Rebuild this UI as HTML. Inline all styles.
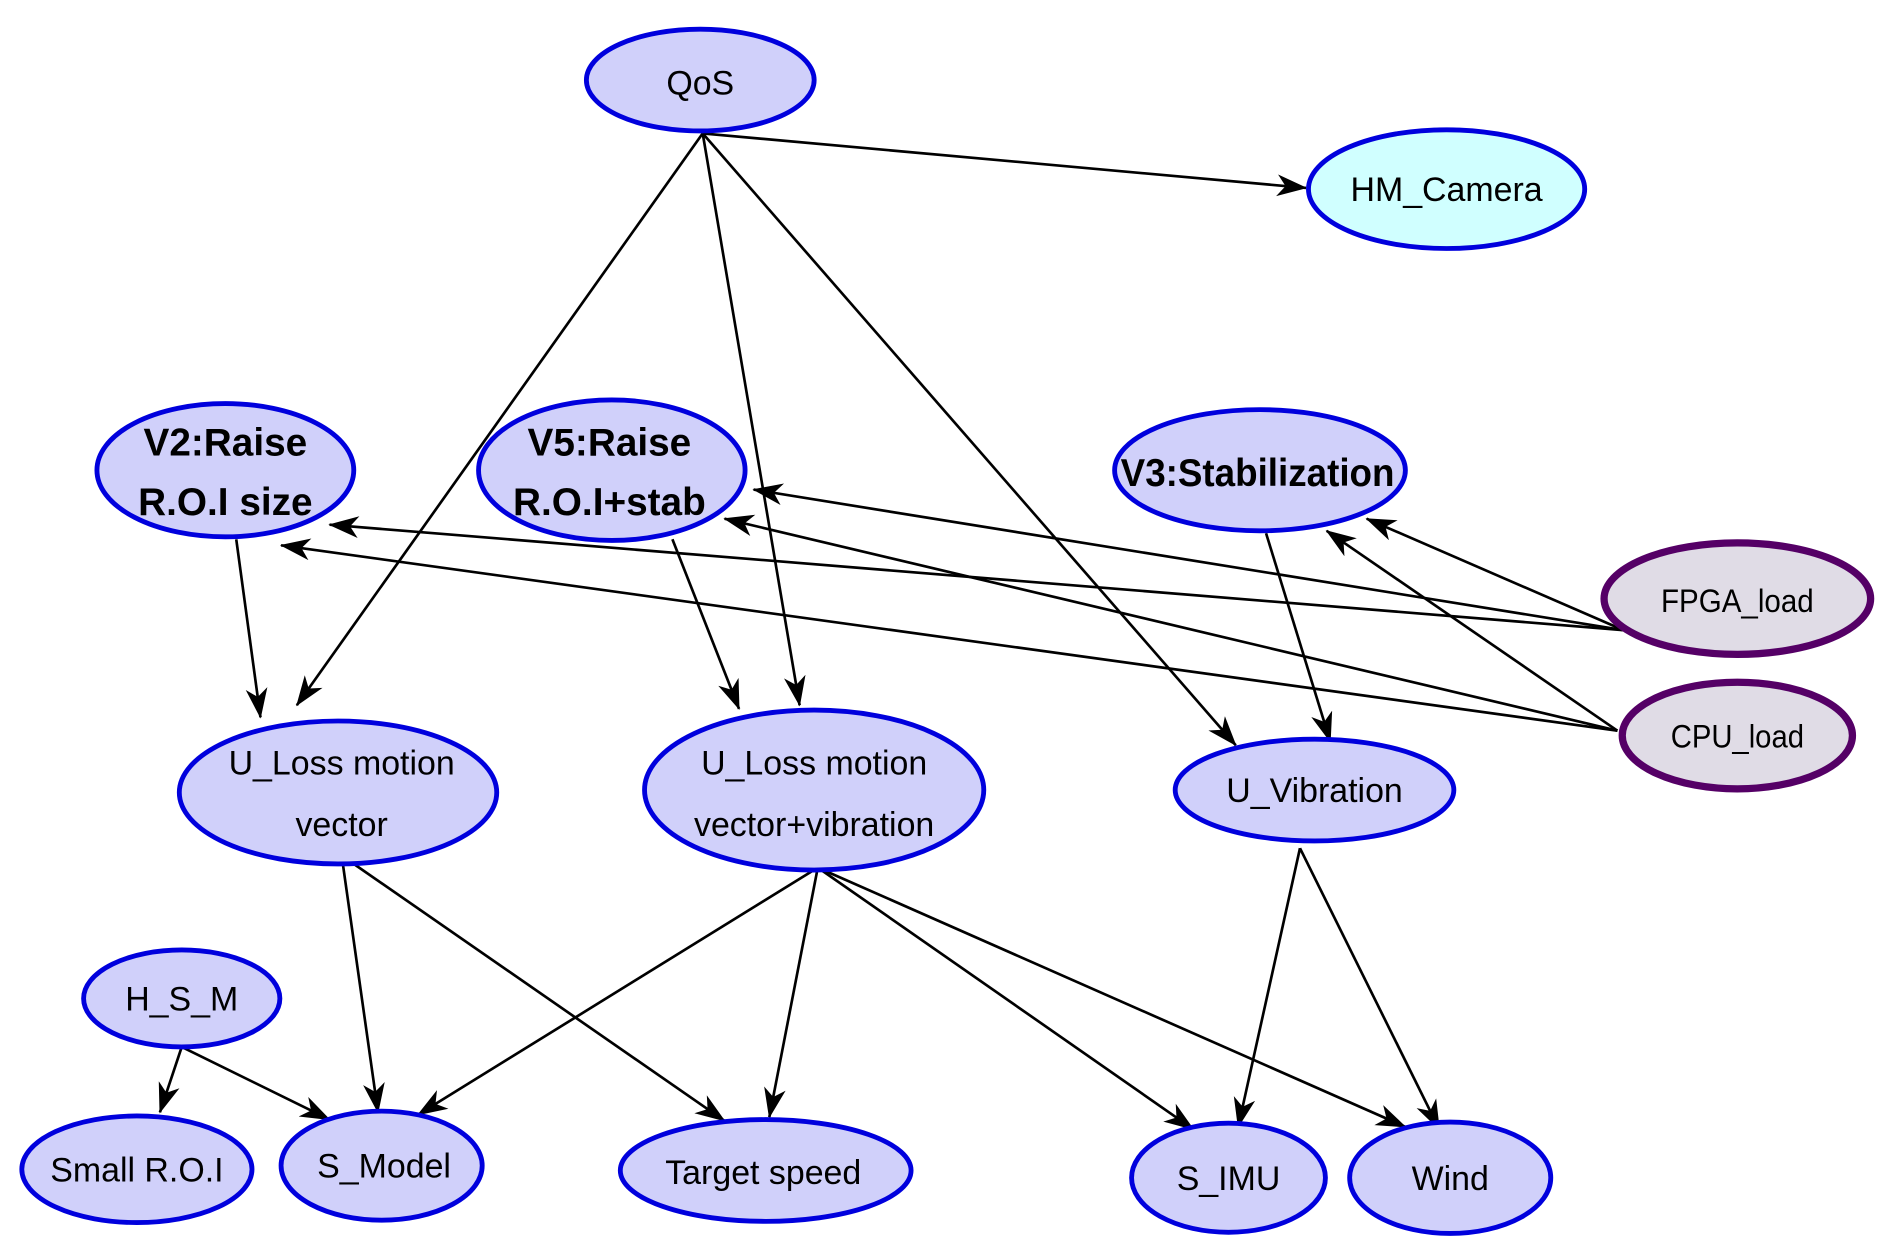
<!DOCTYPE html>
<html><head><meta charset="utf-8"><style>html,body{margin:0;padding:0;background:#fff}svg{display:block}</style></head>
<body>
<svg width="1890" height="1253" viewBox="0 0 1560 1034" xmlns="http://www.w3.org/2000/svg" font-family="Liberation Sans, sans-serif">
<defs>
<marker id="a" markerWidth="30" markerHeight="20" refX="24" refY="9" orient="auto" markerUnits="userSpaceOnUse">
<path d="M0,0 L25,9 L0,18 L7,9 z" fill="#000"/>
</marker>
</defs>
<g stroke="#000" stroke-width="2.2" fill="none" marker-end="url(#a)">
<line x1="580" y1="110" x2="1078" y2="155"/>
<line x1="580" y1="110" x2="245" y2="582"/>
<line x1="580" y1="110" x2="660" y2="582"/>
<line x1="580" y1="110" x2="1020" y2="615"/>
<line x1="195" y1="445" x2="215" y2="592"/>
<line x1="555" y1="445" x2="610" y2="585"/>
<line x1="1045" y1="440" x2="1098" y2="612"/>
<line x1="1340" y1="520" x2="1128" y2="428"/>
<line x1="1340" y1="520" x2="622" y2="404"/>
<line x1="1340" y1="520" x2="272" y2="433"/>
<line x1="1335" y1="603" x2="1095" y2="438"/>
<line x1="1335" y1="603" x2="598" y2="428"/>
<line x1="1335" y1="603" x2="232" y2="450"/>
<line x1="282" y1="706" x2="312" y2="918"/>
<line x1="282" y1="706" x2="598" y2="925"/>
<line x1="675" y1="716" x2="345" y2="920"/>
<line x1="675" y1="716" x2="635" y2="922"/>
<line x1="675" y1="716" x2="985" y2="932"/>
<line x1="675" y1="716" x2="1160" y2="930"/>
<line x1="1073" y1="700" x2="1022" y2="930"/>
<line x1="1073" y1="700" x2="1188" y2="932"/>
<line x1="150" y1="864" x2="132" y2="918"/>
<line x1="150" y1="864" x2="272" y2="924"/>
</g>
<g stroke="#0000dd" stroke-width="4" fill="#d0d0fa">
<ellipse cx="578" cy="66" rx="94" ry="42"/>
<ellipse cx="1194" cy="156" rx="114" ry="49" fill="#d0ffff"/>
<ellipse cx="186" cy="388" rx="106" ry="55"/>
<ellipse cx="505" cy="388" rx="110" ry="58"/>
<ellipse cx="1040" cy="388" rx="120" ry="50"/>
<ellipse cx="279" cy="654" rx="131" ry="59"/>
<ellipse cx="672" cy="652" rx="140" ry="66"/>
<ellipse cx="1085" cy="652" rx="115" ry="42"/>
<ellipse cx="150" cy="824" rx="81" ry="40"/>
<ellipse cx="113" cy="965" rx="95" ry="44"/>
<ellipse cx="315" cy="962" rx="83" ry="45"/>
<ellipse cx="632" cy="966" rx="120" ry="42"/>
<ellipse cx="1014" cy="972" rx="80" ry="45"/>
<ellipse cx="1197" cy="972" rx="83" ry="46"/>
</g>
<g stroke="#550066" stroke-width="6" fill="#e0dce6">
<ellipse cx="1434" cy="494" rx="110" ry="46"/>
<ellipse cx="1434" cy="607" rx="95" ry="44"/>
</g>
<g font-size="28" text-anchor="middle" fill="#000">
<text x="578" y="78">QoS</text>
<text x="1194" y="166">HM_Camera</text>
<text x="1434" y="505" font-size="27" textLength="126" lengthAdjust="spacingAndGlyphs">FPGA_load</text>
<text x="1434" y="617" font-size="27" textLength="110" lengthAdjust="spacingAndGlyphs">CPU_load</text>
<text x="282" y="639">U_Loss motion</text>
<text x="282" y="690">vector</text>
<text x="672" y="639">U_Loss motion</text>
<text x="672" y="690">vector+vibration</text>
<text x="1085" y="662">U_Vibration</text>
<text x="150" y="834">H_S_M</text>
<text x="113" y="975">Small R.O.I</text>
<text x="317" y="972">S_Model</text>
<text x="630" y="977">Target speed</text>
<text x="1014" y="982">S_IMU</text>
<text x="1197" y="982">Wind</text>
<g font-weight="bold" font-size="32">
<text x="186" y="376">V2:Raise</text>
<text x="186" y="425">R.O.I size</text>
<text x="503" y="376">V5:Raise</text>
<text x="503" y="425">R.O.I+stab</text>
<text x="1038" y="401" textLength="226" lengthAdjust="spacingAndGlyphs">V3:Stabilization</text>
</g>
</g>
</svg>
</body></html>
